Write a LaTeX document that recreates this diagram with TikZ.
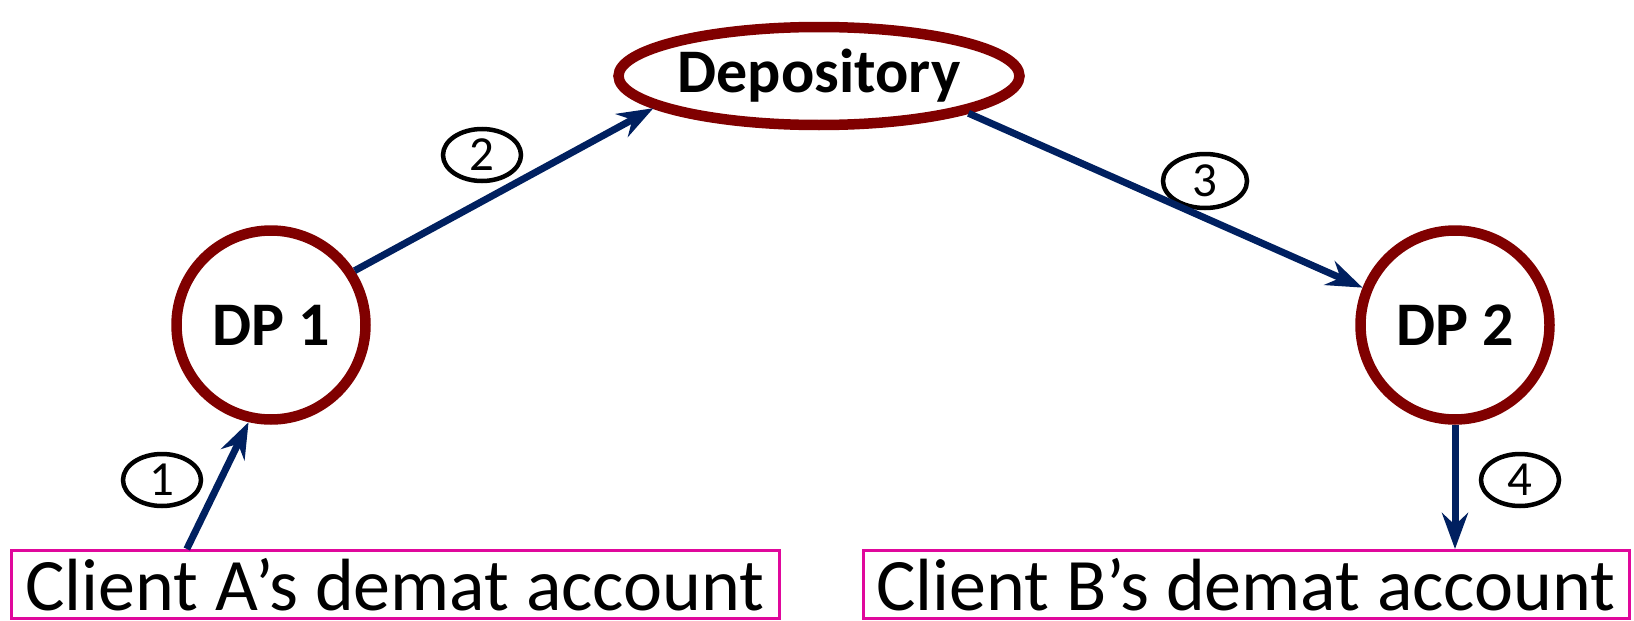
\documentclass[tikz,border=0pt]{standalone}
\usepackage{fontspec}
\setmainfont{Carlito}
\usetikzlibrary{arrows.meta,shapes.geometric,calc}
\definecolor{ringred}{HTML}{800000}
\definecolor{flowblue}{HTML}{002060}
\definecolor{boxpink}{HTML}{E0089C}
\begin{document}
\begin{tikzpicture}[x=1pt,y=-1pt,
  party/.style={draw=ringred, line width=10.5pt, fill=white, inner sep=0pt,
    font=\fontsize{62}{62}\selectfont\bfseries},
  account/.style={draw=boxpink, line width=3pt, inner sep=0pt,
    minimum height=68pt, font=\fontsize{74}{74}\selectfont},
  stepno/.style={draw=black, ellipse, line width=4.5pt, inner sep=0pt,
    minimum width=78pt, minimum height=52pt, font=\fontsize{49}{49}\selectfont},
  flow/.style={draw=flowblue, line width=7pt,
    -{Stealth[length=36pt,width=26pt,inset=12pt]}}
]
\useasboundingbox (0,0) rectangle (1634,621);

% participants
\node[party, ellipse, minimum width=401pt, minimum height=98pt] (dep) at (819,76) {Depository};
\node[party, circle, minimum size=189pt] (dp1) at (271,325) {DP 1};
\node[party, circle, minimum size=189pt] (dp2) at (1455,325) {DP 2};

% client accounts
\node[account, minimum width=768pt] (accA) at (395,584.5) {Client A’s demat account};
\node[account, minimum width=766pt] (accB) at (1246,584.5) {Client B’s demat account};

% step numbers
\node[stepno] (s1) at (162,480) {1};
\node[stepno] (s2) at (482,155) {2};
\node[stepno, minimum width=84pt, minimum height=54pt] (s3) at (1205,181) {3};
\node[stepno] (s4) at (1520,480) {4};

% transfer flow
\draw[flow] ($(accA.north west)!0.23!(accA.north east)$) -- (dp1.257);
\draw[flow] (dp1.33) -- (dep.191.5);
\draw[flow] (dep.346) -- (dp2.158);
\draw[flow] (dp2.south) -- (dp2.south |- accB.north);
\end{tikzpicture}
\end{document}
